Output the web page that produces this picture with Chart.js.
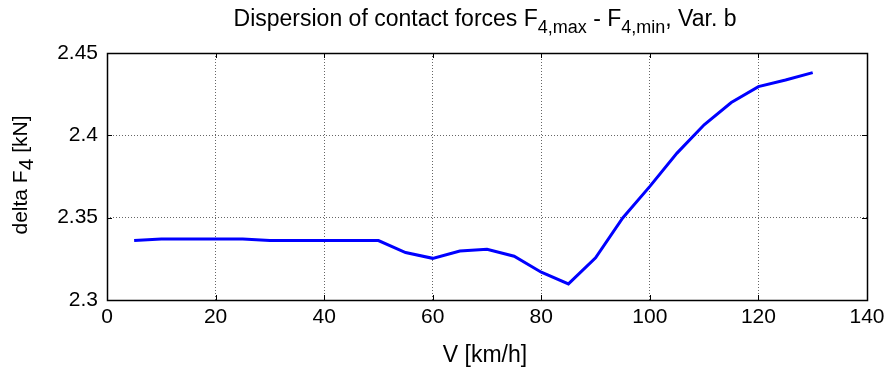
<!DOCTYPE html>
<html><head><meta charset="utf-8">
<script src="https://cdn.jsdelivr.net/npm/chart.js@4/dist/chart.umd.min.js"></script>
<style>html,body{margin:0;padding:0;background:#fff}#wrap{width:891px;height:368px}</style>
</head><body><div id="wrap"><canvas id="c" width="891" height="368"></canvas></div>
<script>
const speeds = [5,10,15,20,25,30,35,40,45,50,55,60,65,70,75,80,85,90,95,100,105,110,115,120,125,130];
const deltaF4 = [2.3361,2.3371,2.3371,2.3371,2.3371,2.3361,2.3361,2.3361,2.3361,2.3361,2.3288,2.3253,2.3298,2.3308,2.3266,2.3169,2.3098,2.3256,2.3498,2.369,2.3892,2.4064,2.4199,2.4296,2.4336,2.4381];
const xTicks = [0,20,40,60,80,100,120,140];
const yTicks = [2.3,2.35,2.4,2.45];
const yTickLabels = ['2.3','2.35','2.4','2.45'];
const titleParts = [['Dispersion of contact forces F',0],['4,max',1],[' - F',0],['4,min',1],[', Var. b',0]];
const yLabelParts = [['delta F',0],['4',1],[' [kN]',0]];
const xLabel = 'V [km/h]';

const FONT = "'Liberation Sans', Arial, sans-serif";

function drawParts(ctx, parts, size, subSize, subShift){
  let w = 0;
  parts.forEach(p => { ctx.font = (p[1]? subSize: size) + 'px ' + FONT; w += ctx.measureText(p[0]).width; });
  let x = -w/2;
  parts.forEach(p => {
    ctx.font = (p[1]? subSize: size) + 'px ' + FONT;
    ctx.fillText(p[0], x, p[1] ? subShift : 0);
    x += ctx.measureText(p[0]).width;
  });
}

const deco = {
  id: 'deco',
  beforeDatasetsDraw(chart){
    const {ctx, chartArea:a, scales:{x,y}} = chart;
    ctx.save();
    ctx.strokeStyle = '#000'; ctx.lineWidth = 1;
    const L = 5;
    xTicks.forEach(v => {
      const px = Math.round(x.getPixelForValue(v)) + 0.5;
      ctx.beginPath(); ctx.moveTo(px, a.bottom); ctx.lineTo(px, a.bottom - L);
      ctx.moveTo(px, a.top); ctx.lineTo(px, a.top + L); ctx.stroke();
    });
    yTicks.forEach(v => {
      const py = Math.round(y.getPixelForValue(v)) + 0.5;
      ctx.beginPath(); ctx.moveTo(a.left, py); ctx.lineTo(a.left + L, py);
      ctx.moveTo(a.right, py); ctx.lineTo(a.right - L, py); ctx.stroke();
    });
    ctx.lineWidth = 1.5;
    ctx.strokeRect(Math.round(a.left)+0.5, Math.round(a.top)+0.5, Math.round(a.right-a.left), Math.round(a.bottom-a.top));
    ctx.restore();
  },
  afterDraw(chart){
    const {ctx, chartArea:a} = chart;
    ctx.save();
    ctx.fillStyle = '#000';
    ctx.textBaseline = 'alphabetic';
    ctx.textAlign = 'left';
    ctx.translate(485, 26);
    drawParts(ctx, titleParts, 23, 18, 7);
    ctx.restore();
    ctx.save();
    ctx.fillStyle = '#000';
    ctx.textAlign = 'left';
    ctx.textBaseline = 'alphabetic';
    ctx.translate(27, 175);
    ctx.rotate(-Math.PI/2);
    drawParts(ctx, yLabelParts, 21, 21, 6);
    ctx.restore();
    ctx.save();
    ctx.fillStyle = '#000';
    ctx.textAlign = 'center';
    ctx.font = '23px ' + FONT;
    ctx.fillText(xLabel, 485, 362);
    ctx.restore();
  }
};

new Chart(document.getElementById('c'), {
  type: 'line',
  data: { datasets: [{
    data: speeds.map((s,i)=>({x:s, y:deltaF4[i]})),
    borderColor: '#0000ff', borderWidth: 3, pointRadius: 0, tension: 0, fill: false
  }]},
  plugins: [deco],
  options: {
    responsive: false, animation: false, devicePixelRatio: 1,
    layout: { padding: { left: 0, right: 24, top: 53, bottom: 0 } },
    plugins: { legend: {display:false}, tooltip: {enabled:false}, title: {display:false} },
    scales: {
      x: {
        type: 'linear', min: 0, max: 140,
        afterBuildTicks: s => { s.ticks = xTicks.map(v=>({value:v})); },
        afterFit: s => { s.height = 68; },
        ticks: { color:'#000', font:{family:FONT, size:21}, padding: 5, maxRotation:0, autoSkip:false },
        grid: { color:'#666', lineWidth:1, drawTicks:false },
        border: { display:false, dash:[1,2] }
      },
      y: {
        type: 'linear', min: 2.3, max: 2.45,
        afterBuildTicks: s => { s.ticks = yTicks.map(v=>({value:v})); },
        afterFit: s => { s.width = 107; },
        ticks: { color:'#000', font:{family:FONT, size:21}, padding: 9, autoSkip:false,
          callback: (v) => { const i = yTicks.findIndex(t=>Math.abs(t-v)<1e-9); return i>=0 ? yTickLabels[i] : ''; } },
        grid: { color:'#666', lineWidth:1, drawTicks:false },
        border: { display:false, dash:[1,2] }
      }
    }
  }
});
</script></body></html>
